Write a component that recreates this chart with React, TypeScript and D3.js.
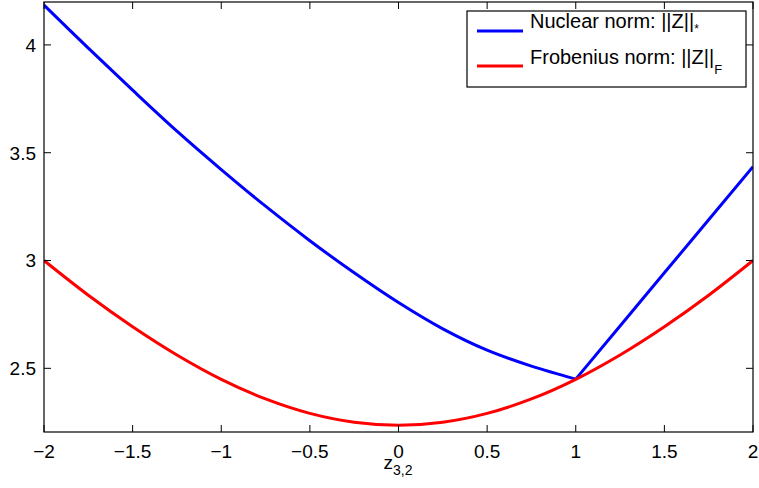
import React from 'react';
import * as d3 from 'd3';

// z_{3,2} sample positions and the two norms
const zValues = [-2, -1.75, -1.5, -1.25, -1, -0.75, -0.5, -0.25, 0, 0.25, 0.5, 0.75, 1, 1.25, 1.5, 1.75, 2];
const nuclearNorm = [4.185, 3.985, 3.79, 3.6, 3.422, 3.252, 3.092, 2.943, 2.805, 2.683, 2.584, 2.51, 2.45, 2.696, 2.943, 3.189, 3.435];
const frobeniusNorm = [3.0, 2.839, 2.693, 2.562, 2.449, 2.358, 2.291, 2.25, 2.236, 2.25, 2.291, 2.358, 2.449, 2.562, 2.693, 2.839, 3.0];
const kinkIndex = 12; // nuclear norm has a corner at z = 1

const xTicks = [-2, -1.5, -1, -0.5, 0, 0.5, 1, 1.5, 2];
const yTicks = [2.5, 3, 3.5, 4];

const legendLabels = ['Nuclear norm: ||Z||', 'Frobenius norm: ||Z||'];
const legendSubs = ['*', 'F'];
const seriesColors = ['#0000ff', '#ff0000'];

const W = 759;
const H = 488;
const left = 44;
const right = 753;
const top = 2;
const bottom = 432;
const tickLen = 7;
const font = 'Helvetica, Arial, "Liberation Sans", sans-serif';

export default function App() {
  const x = d3.scaleLinear().domain([-2, 2]).range([left, right]);
  const y = d3.scaleLinear().domain([2.2, 4.2]).range([433, 1.8]);
  const fmt = d3.format('');

  const pts = (s: number[], from = 0, to = s.length - 1) =>
    s.slice(from, to + 1).map((v, i) => [x(zValues[from + i]), y(v)] as [number, number]);
  const smooth = d3.line().curve(d3.curveCatmullRom.alpha(0.5));
  const straight = d3.line();

  const paths = [
    (smooth(pts(nuclearNorm, 0, kinkIndex)) || '') + (straight(pts(nuclearNorm, kinkIndex)) || ''),
    smooth(pts(frobeniusNorm)) || '',
  ];

  return (
    <svg width={W} height={H} style={{ position: 'absolute', left: 0, top: 0 }} fontFamily={font}>
      <defs>
        <clipPath id="plot">
          <rect x={left} y={top} width={right - left} height={bottom - top} />
        </clipPath>
      </defs>
      <rect width={W} height={H} fill="#fff" />

      <g clipPath="url(#plot)">
        {paths.map((d, i) => (
          <path key={i} d={d} fill="none" stroke={seriesColors[i]} strokeWidth={3} strokeLinejoin="round" />
        ))}
      </g>

      {/* box and inward ticks */}
      <rect x={left} y={top} width={right - left} height={bottom - top} fill="none" stroke="#000" strokeWidth={1.2} />
      {xTicks.map((t) => (
        <g key={'x' + t} stroke="#000" strokeWidth={1}>
          <line x1={x(t)} x2={x(t)} y1={bottom} y2={bottom - tickLen} />
          <line x1={x(t)} x2={x(t)} y1={top} y2={top + tickLen} />
        </g>
      ))}
      {yTicks.map((t) => (
        <g key={'y' + t} stroke="#000" strokeWidth={1}>
          <line x1={left} x2={left + tickLen} y1={y(t)} y2={y(t)} />
          <line x1={right} x2={right - tickLen} y1={y(t)} y2={y(t)} />
        </g>
      ))}

      {xTicks.map((t) => (
        <text key={'xl' + t} x={x(t)} y={458} fontSize={19} textAnchor="middle">
          {fmt(t)}
        </text>
      ))}
      {yTicks.map((t) => (
        <text key={'yl' + t} x={36} y={y(t)} dy="0.36em" fontSize={19} textAnchor="end">
          {fmt(t)}
        </text>
      ))}

      <text x={398} y={469} fontSize={19} textAnchor="middle">
        z<tspan fontSize={14} dy={6}>3,2</tspan>
      </text>

      {/* legend */}
      <rect x={467} y={11} width={279} height={76} fill="#fff" stroke="#000" strokeWidth={1.2} />
      {legendLabels.map((lab, i) => (
        <g key={lab}>
          <line x1={477} x2={523} y1={31 + i * 35} y2={31 + i * 35} stroke={seriesColors[i]} strokeWidth={3} />
          <text x={530} y={28 + i * 36} fontSize={20}>
            {lab}
            <tspan fontSize={i === 0 ? 12 : 13} dy={i === 0 ? 5 : 10}>{legendSubs[i]}</tspan>
          </text>
        </g>
      ))}
    </svg>
  );
}
